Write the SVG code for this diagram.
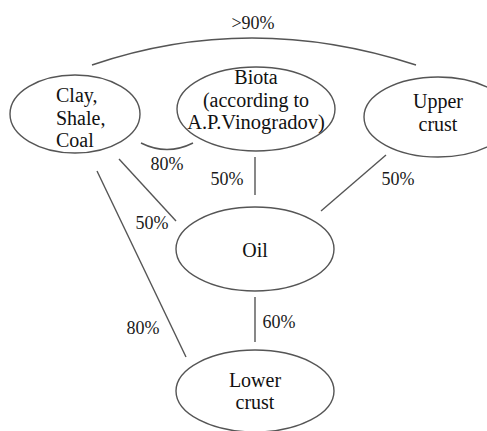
<svg xmlns="http://www.w3.org/2000/svg" width="487" height="431" viewBox="0 0 487 431">
<style>
.n{fill:#fff;stroke:#555;stroke-width:1.4}
.t{font-family:"Liberation Serif","Times New Roman",serif;font-size:20px;fill:#111;text-anchor:middle}
.l{font-family:"Liberation Serif","Times New Roman",serif;font-size:18px;fill:#1a1a1a;text-anchor:middle}
.c{fill:none;stroke:#555;stroke-width:1.4}
</style>
<rect width="487" height="431" fill="#fff"/>
<g id="connectors">
<path class="c" d="M92,65 Q250,11 416,65"/>
<path class="c" d="M141,143 Q167,156 193,143"/>
<line class="c" x1="255" y1="157" x2="255" y2="195"/>
<line class="c" x1="386" y1="155" x2="321" y2="211"/>
<line class="c" x1="119" y1="159" x2="176" y2="221"/>
<line class="c" x1="97" y1="171" x2="186" y2="357"/>
<line class="c" x1="255" y1="297" x2="255" y2="342"/>
<text class="l" x="253" y="29">&gt;90%</text>
<text class="l" x="167" y="170">80%</text>
<text class="l" x="227" y="185">50%</text>
<text class="l" x="398" y="185">50%</text>
<text class="l" x="152" y="229">50%</text>
<text class="l" x="143" y="334">80%</text>
<text class="l" x="279" y="328">60%</text>
</g>
<g id="clay">
<ellipse class="n" cx="75" cy="114" rx="65" ry="39"/>
<text class="t" style="text-anchor:start" x="56" y="102">Clay,</text>
<text class="t" style="text-anchor:start" x="56" y="125">Shale,</text>
<text class="t" style="text-anchor:start" x="56" y="147">Coal</text>
</g>
<g id="biota">
<ellipse class="n" cx="256" cy="109" rx="79" ry="42"/>
<text class="t" x="256" y="84">Biota</text>
<text class="t" x="256" y="107">(according to</text>
<text class="t" x="256" y="129" style="font-size:20.5px">A.P.Vinogradov)</text>
</g>
<g id="upper">
<ellipse class="n" cx="438" cy="117" rx="74" ry="40"/>
<text class="t" x="438" y="108">Upper</text>
<text class="t" x="438" y="131">crust</text>
</g>
<g id="oil">
<ellipse class="n" cx="255" cy="249" rx="79" ry="42"/>
<text class="t" x="255" y="257">Oil</text>
</g>
<g id="lower">
<ellipse class="n" cx="255" cy="391" rx="79" ry="41"/>
<text class="t" x="255" y="387">Lower</text>
<text class="t" x="255" y="409">crust</text>
</g>
</svg>
